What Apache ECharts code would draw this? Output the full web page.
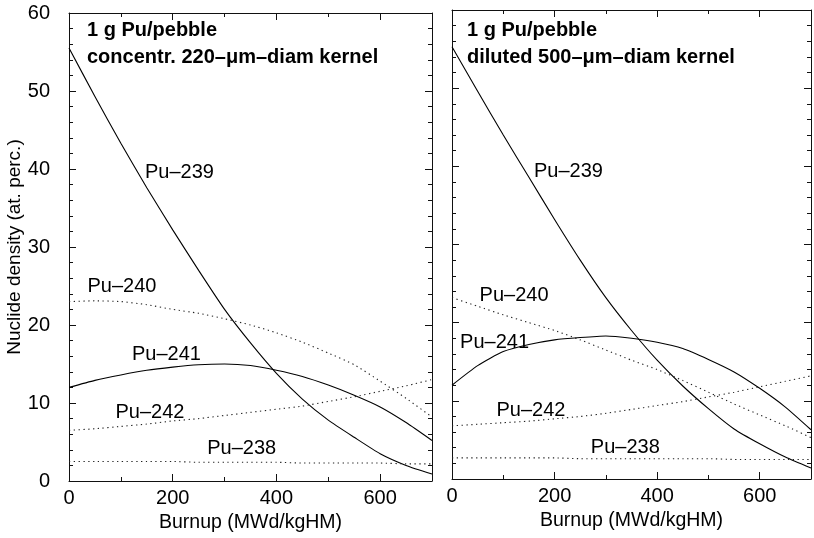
<!DOCTYPE html>
<html><head><meta charset="utf-8">
<script src="https://cdn.jsdelivr.net/npm/echarts@6/dist/echarts.min.js"></script>
<style>html,body{margin:0;padding:0;background:#fff}#c{width:814px;height:538px}</style>
</head><body><div id="c"></div>
<script>
// Burnup values (MWd/kgHM)
const burnup = [0, 50, 100, 150, 200, 250, 300, 350, 400, 450, 500, 550, 600, 650, 700];
// Left panel: concentr. 220-um-diam kernel
const leftPu239 = [55.5, 49.3, 43.3, 37.6, 32.2, 27.0, 22.0, 17.7, 13.8, 10.5, 7.8, 5.6, 3.5, 2.0, 0.9];
const leftPu240 = [23.0, 23.1, 23.0, 22.6, 22.0, 21.5, 20.8, 20.0, 19.0, 17.8, 16.4, 14.9, 12.8, 10.6, 8.2];
const leftPu241 = [12.0, 12.9, 13.6, 14.2, 14.6, 14.9, 15.0, 14.8, 14.2, 13.4, 12.3, 11.0, 9.5, 7.5, 5.2];
const leftPu242 = [6.5, 6.7, 7.0, 7.3, 7.7, 8.0, 8.4, 8.8, 9.2, 9.6, 10.2, 10.8, 11.5, 12.2, 13.0];
const leftPu238 = [2.5, 2.5, 2.5, 2.5, 2.5, 2.4, 2.4, 2.4, 2.4, 2.3, 2.3, 2.3, 2.3, 2.2, 2.2];
// Right panel: diluted 500-um-diam kernel
const rightPu239 = [55.3, 49.6, 44.0, 38.6, 33.2, 28.0, 23.2, 19.0, 15.2, 11.9, 9.0, 6.4, 4.5, 2.8, 1.4];
const rightPu240 = [23.2, 22.1, 21.0, 20.0, 19.0, 17.8, 16.5, 15.2, 14.0, 12.6, 11.1, 9.6, 8.2, 6.8, 5.3];
const rightPu241 = [12.0, 14.5, 16.3, 17.2, 17.8, 18.1, 18.3, 18.0, 17.5, 16.7, 15.3, 13.7, 11.6, 9.2, 6.3];
const rightPu242 = [6.8, 7.0, 7.2, 7.4, 7.7, 8.0, 8.4, 8.9, 9.4, 9.9, 10.5, 11.1, 11.8, 12.5, 13.2];
const rightPu238 = [2.7, 2.7, 2.7, 2.7, 2.7, 2.6, 2.6, 2.6, 2.6, 2.6, 2.6, 2.5, 2.5, 2.5, 2.5];
// curve label anchors [name, burnup, density]
const leftLabels = [["Pu–239", 213, 39.6], ["Pu–240", 102, 25.0], ["Pu–241", 188, 16.2], ["Pu–242", 156, 8.8], ["Pu–238", 333, 4.2]];
const rightLabels = [["Pu–239", 227, 39.3], ["Pu–240", 121, 23.5], ["Pu–241", 83, 17.5], ["Pu–242", 154, 8.8], ["Pu–238", 338, 4.0]];
const xTicks = [0, 200, 400, 600];
const yTicks = [0, 10, 20, 30, 40, 50, 60];

const FONT = "Liberation Sans";
const chart = echarts.init(document.getElementById('c'), null, {renderer: 'canvas'});

function pairs(ys) { return burnup.map((x, i) => [x, ys[i]]); }
const solid = {color: '#000', width: 1.1};
const dotted = {color: '#222', width: 1.1, type: [1.3, 3.5]};

function line(gi, ys, style) {
  return {type: 'line', xAxisIndex: gi * 2, yAxisIndex: gi * 2, data: pairs(ys), smooth: 0.2,
          symbol: 'none', lineStyle: style, silent: true, animation: false};
}
function labelSeries(gi, labels) {
  return {type: 'scatter', xAxisIndex: gi * 2, yAxisIndex: gi * 2, symbolSize: 0, silent: true, animation: false,
    itemStyle: {opacity: 1, color: '#000'},
    data: labels.map(l => ({value: [l[1], l[2]], name: l[0]})),
    label: {show: true, position: 'inside', formatter: p => p.name, color: '#000', opacity: 1, fontFamily: FONT, fontSize: 20}};
}

const grids = [
  {left: 69, top: 13, width: 363, height: 468},
  {left: 452, top: 10, width: 361, height: 469}
];

const xAxes = [], yAxes = [];
grids.forEach((g, gi) => {
  const xBase = {type: 'value', gridIndex: gi, min: 0, max: 700, interval: 200,
    axisLine: {show: true, onZero: false, lineStyle: {color: '#111', width: 1}},
    axisTick: {show: true, inside: true, length: 7, lineStyle: {color: '#111'}},
    minorTick: {show: true, splitNumber: 2, length: 4, lineStyle: {color: '#111'}},
    splitLine: {show: false}};
  xAxes.push(Object.assign({}, xBase, {position: 'bottom',
    axisLabel: {show: true, color: '#000', fontFamily: FONT, fontSize: 20, margin: 7,
      formatter: v => xTicks.includes(v) ? String(v) : ''},
    name: 'Burnup (MWd/kgHM)', nameLocation: 'middle', nameGap: 31,
    nameTextStyle: {color: '#000', fontFamily: FONT, fontSize: 19.5}}));
  xAxes.push(Object.assign({}, xBase, {position: 'top', axisLabel: {show: false}}));
  const yBase = {type: 'value', gridIndex: gi, min: 0, max: 60, interval: 10,
    axisLine: {show: true, onZero: false, lineStyle: {color: '#111', width: 1}},
    axisTick: {show: true, inside: true, length: 7, lineStyle: {color: '#111'}},
    minorTick: {show: true, splitNumber: 5, length: 4, lineStyle: {color: '#111'}},
    splitLine: {show: false}};
  yAxes.push(Object.assign({}, yBase, {position: 'left',
    axisLabel: {show: gi === 0, color: '#000', fontFamily: FONT, fontSize: 20, margin: 19,
      formatter: v => yTicks.includes(v) ? String(v) : ''},
    name: gi === 0 ? 'Nuclide density (at. perc.)' : '', nameLocation: 'middle', nameGap: 43,
    nameTextStyle: {color: '#000', fontFamily: FONT, fontSize: 19}}));
  yAxes.push(Object.assign({}, yBase, {position: 'right', axisLabel: {show: false}}));
});

const series = [
  line(0, leftPu239, solid), line(0, leftPu240, dotted), line(0, leftPu241, solid),
  line(0, leftPu242, dotted), line(0, leftPu238, dotted), labelSeries(0, leftLabels),
  line(1, rightPu239, solid), line(1, rightPu240, dotted), line(1, rightPu241, solid),
  line(1, rightPu242, dotted), line(1, rightPu238, dotted), labelSeries(1, rightLabels)
];

const titleStyle = {color: '#000', fontFamily: FONT, fontSize: 20, fontWeight: 'bold', lineHeight: 27};
chart.setOption({
  animation: false,
  backgroundColor: '#fff',
  title: [
    {text: '1 g Pu/pebble\nconcentr. 220–μm–diam kernel', left: 87, top: 17, padding: 0, textStyle: titleStyle},
    {text: '1 g Pu/pebble\ndiluted 500–μm–diam kernel', left: 467, top: 17, padding: 0, textStyle: titleStyle}
  ],
  grid: grids,
  xAxis: xAxes,
  yAxis: yAxes,
  series: series
});
</script></body></html>
